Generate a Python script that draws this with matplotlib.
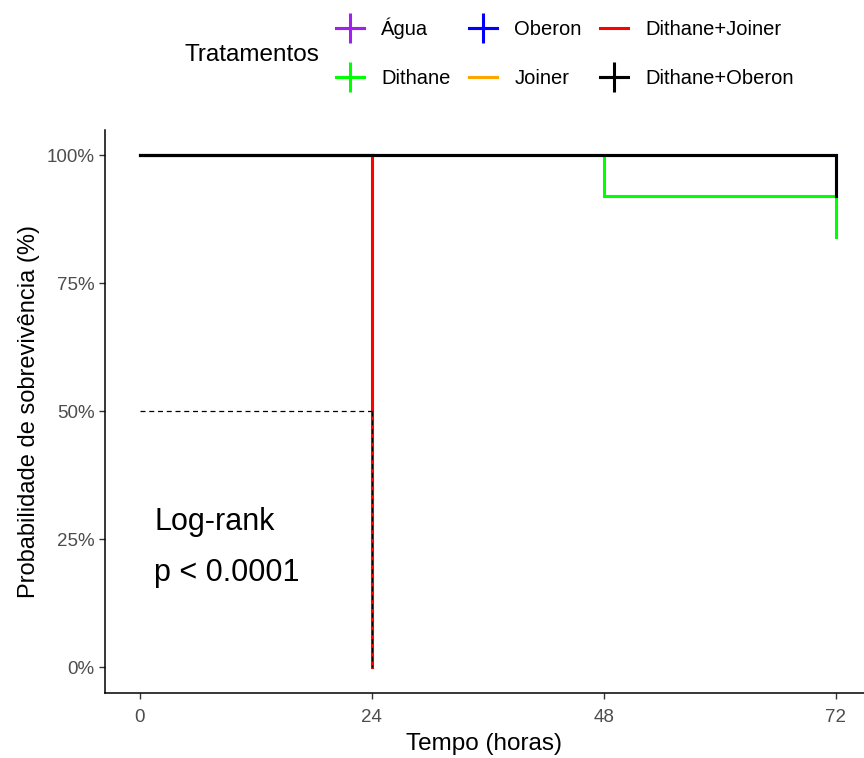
import matplotlib.pyplot as plt
from matplotlib.lines import Line2D

plt.rcParams['font.family'] = ['Liberation Sans', 'DejaVu Sans']

# Kaplan-Meier step data per treatment (time in hours, survival proportion)
groups = ['Água', 'Dithane', 'Oberon', 'Joiner', 'Dithane+Joiner', 'Dithane+Oberon']
colors = ['#A020F0', '#00FF00', '#0000FF', '#FFA500', '#FF0000', '#000000']
times = [
    [0, 72],
    [0, 48, 72],
    [0, 72],
    [0, 24],
    [0, 24],
    [0, 72],
]
surv = [
    [1.0, 1.0],
    [1.0, 0.92, 0.84],
    [1.0, 0.92],
    [1.0, 0.0],
    [1.0, 0.0],
    [1.0, 0.92],
]
censored = [True, True, True, False, False, True]
median_time = 24
x_ticks = [0, 24, 48, 72]
y_ticks = [0, 0.25, 0.5, 0.75, 1.0]

fig = plt.figure(figsize=(8.64, 7.58), dpi=100)
ax = fig.add_axes([0.1215, 0.0858, 0.8785, 0.743])

for t, s, c in zip(times, surv, colors):
    ax.step(t, s, where='post', color=c, lw=2.2, solid_joinstyle='miter')

# median survival reference
ax.plot([0, median_time], [0.5, 0.5], ls=(0, (4, 3)), color='black', lw=0.9)
ax.plot([median_time, median_time], [0.5, 0], ls=(0, (4, 3)), color='black', lw=0.9)

ax.text(1.5, 0.284, 'Log-rank', fontsize=22, va='center')
ax.text(1.5, 0.184, 'p < 0.0001', fontsize=22, va='center')

ax.set_xlim(-3.6, 74.9)
ax.set_ylim(-0.05, 1.05)
ax.set_xticks(x_ticks)
ax.set_yticks(y_ticks)
ax.set_yticklabels([f'{int(v * 100)}%' for v in y_ticks])
ax.tick_params(colors='#333333', labelcolor='#4D4D4D', labelsize=13.5, length=4, width=1)
ax.tick_params(axis='x', pad=7.5)
for side in ['top', 'right']:
    ax.spines[side].set_visible(False)
for side in ['left', 'bottom']:
    ax.spines[side].set_linewidth(1.1)
ax.set_xlabel('Tempo (horas)', fontsize=17.5, labelpad=5)
ax.set_ylabel('Probabilidade de sobrevivência (%)', fontsize=17, labelpad=5)

handles = []
for c, cen in zip(colors, censored):
    handles.append(Line2D([], [], color=c, lw=2.2, marker='+' if cen else None,
                          markersize=21, markeredgewidth=2.2))
fig.legend(handles, groups, ncol=3, loc='upper left', bbox_to_anchor=(0.389, 0.977),
           frameon=False, fontsize=14.5, handlelength=1.4, handletextpad=0.85,
           columnspacing=0.9, labelspacing=1.5, borderpad=0, borderaxespad=0)
fig.text(0.214, 0.927, 'Tratamentos', fontsize=17.5, va='center')

fig.savefig('out.png', dpi=100)
